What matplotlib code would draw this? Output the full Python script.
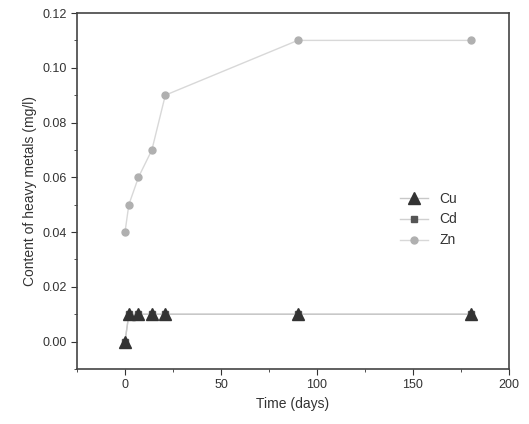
import matplotlib
matplotlib.use("Agg")
import matplotlib.pyplot as plt
from matplotlib.ticker import MultipleLocator

# sampling days and measured contents (mg/l)
days = [0, 2, 7, 14, 21, 90, 180]
cu = [0.0, 0.01, 0.01, 0.01, 0.01, 0.01, 0.01]
cd = [0.0, 0.01, 0.01, 0.01, 0.01, 0.01, 0.01]
zn = [0.04, 0.05, 0.06, 0.07, 0.09, 0.11, 0.11]

plt.rcParams['font.family'] = ['Liberation Sans', 'DejaVu Sans']

fig = plt.figure(figsize=(5.29, 4.24), dpi=100)
ax = fig.add_axes([0.1456, 0.1297, 0.8164, 0.8396])

ax.plot(days, zn, color='#d8d8d8', lw=1, marker='o', ms=5,
        mfc='#b0b0b0', mec='#b0b0b0', label='Zn', zorder=2)
ax.plot(days, cd, color='#d0d0d0', lw=1, marker='s', ms=4,
        mfc='#555555', mec='#555555', label='Cd', zorder=3)
ax.plot(days, cu, color='#c8c8c8', lw=1, marker='^', ms=8,
        mfc='#333333', mec='#333333', label='Cu', zorder=4)

ax.set_xlim(-25, 200)
ax.set_ylim(-0.01, 0.12)
ax.xaxis.set_major_locator(MultipleLocator(50))
ax.xaxis.set_minor_locator(MultipleLocator(25))
ax.yaxis.set_major_locator(MultipleLocator(0.02))
ax.yaxis.set_minor_locator(MultipleLocator(0.01))
ax.yaxis.set_major_formatter(matplotlib.ticker.FormatStrFormatter('%.2f'))
ax.tick_params(which='both', direction='out', color='#333333', labelcolor='#333333',
               labelsize=9)
ax.tick_params(which='major', length=4)
ax.tick_params(which='minor', length=2.5)
for s in ax.spines.values():
    s.set_color('#444444')
    s.set_linewidth(1.2)

ax.set_xlabel('Time (days)', fontsize=10, color='#333333')
ax.set_ylabel('Content of heavy metals (mg/l)', fontsize=10, color='#333333')

h, l = ax.get_legend_handles_labels()
ax.legend(h[::-1], l[::-1], loc='center left', bbox_to_anchor=(0.72, 0.42),
          frameon=False, fontsize=10, handlelength=2, labelcolor='#333333')

fig.savefig('out.png', dpi=100)
